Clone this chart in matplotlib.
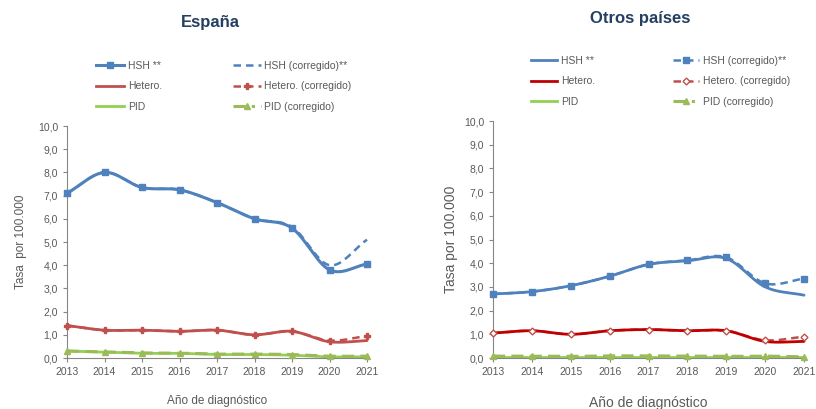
import numpy as np
import matplotlib.pyplot as plt
from matplotlib.lines import Line2D
from matplotlib.ticker import FuncFormatter

plt.rcParams['font.family'] = ['Liberation Sans', 'DejaVu Sans']

years = [2013, 2014, 2015, 2016, 2017, 2018, 2019, 2020, 2021]

# España
es_hsh = [7.1, 8.0, 7.35, 7.25, 6.7, 6.0, 5.6, 3.8, 4.05]
es_hsh_corr = [7.1, 8.0, 7.35, 7.25, 6.7, 6.0, 5.65, 4.0, 5.1]
es_het = [1.4, 1.2, 1.2, 1.15, 1.2, 1.0, 1.15, 0.7, 0.75]
es_het_corr = [1.4, 1.2, 1.2, 1.15, 1.2, 1.0, 1.15, 0.75, 0.95]
es_pid = [0.3, 0.25, 0.2, 0.2, 0.15, 0.15, 0.12, 0.05, 0.05]
es_pid_corr = [0.3, 0.26, 0.22, 0.21, 0.17, 0.17, 0.15, 0.08, 0.08]

# Otros países
ot_hsh = [2.7, 2.8, 3.05, 3.45, 3.95, 4.1, 4.2, 3.0, 2.65]
ot_hsh_corr = [2.7, 2.8, 3.05, 3.45, 3.95, 4.12, 4.25, 3.15, 3.35]
ot_het = [1.05, 1.15, 1.0, 1.15, 1.2, 1.15, 1.15, 0.7, 0.7]
ot_het_corr = [1.05, 1.15, 1.0, 1.15, 1.2, 1.15, 1.15, 0.75, 0.9]
ot_pid = [0.05, 0.05, 0.05, 0.05, 0.05, 0.05, 0.05, 0.05, 0.05]
ot_pid_corr = [0.08, 0.08, 0.07, 0.09, 0.09, 0.08, 0.07, 0.08, 0.05]

labels = ['HSH **', 'Hetero.', 'PID', 'HSH (corregido)**', 'Hetero. (corregido)', 'PID (corregido)']

BLUE = '#4F81BD'
GREY = '#595959'
TITLE = '#243F60'


def smooth(x, y, n=24):
    # Catmull-Rom curve through the points, like Excel's smoothed lines
    x = np.asarray(x, float)
    y = np.asarray(y, float)
    px = np.concatenate([[2 * x[0] - x[1]], x, [2 * x[-1] - x[-2]]])
    py = np.concatenate([[2 * y[0] - y[1]], y, [2 * y[-1] - y[-2]]])
    xs, ys = [], []
    t = np.linspace(0, 1, n)
    for i in range(1, len(px) - 2):
        for p, out in ((px, xs), (py, ys)):
            p0, p1, p2, p3 = p[i - 1], p[i], p[i + 1], p[i + 2]
            out.extend(0.5 * (2 * p1 + (-p0 + p2) * t + (2 * p0 - 5 * p1 + 4 * p2 - p3) * t ** 2
                              + (-p0 + 3 * p1 - 3 * p2 + p3) * t ** 3))
    return xs, ys


def draw(ax, y, color, ls, lw, marker=None, ms=4, mfc=None):
    sx, sy = smooth(years, y)
    ax.plot(sx, sy, color=color, ls=ls, lw=lw, clip_on=False, solid_capstyle='round')
    if marker:
        ax.plot(years, y, ls='none', marker=marker, ms=ms, color=color,
                mfc=mfc or color, mec=color, clip_on=False, zorder=5)


def style(ax):
    ax.set_xlim(2013, 2021)
    ax.set_ylim(0, 10)
    ax.set_xticks(years)
    ax.set_yticks(np.arange(0, 11, 1))
    ax.yaxis.set_major_formatter(FuncFormatter(lambda v, p: f'{v:.1f}'.replace('.', ',')))
    for s in ['top', 'right']:
        ax.spines[s].set_visible(False)
    for s in ['left', 'bottom']:
        ax.spines[s].set_color('#868686')
        ax.spines[s].set_linewidth(0.8)
    ax.tick_params(colors='#868686', labelcolor=GREY, labelsize=7.5, length=3, width=0.8)


fig = plt.figure(figsize=(8.16, 4.09), dpi=100)

# España
ax1 = fig.add_axes([67 / 816, 51 / 409, 300 / 816, 232 / 409])
style(ax1)
draw(ax1, es_pid, '#92D050', '-', 2.0)
draw(ax1, es_pid_corr, '#9BBB59', (0, (4, 2)), 2.2, marker='^', ms=4)
draw(ax1, es_het_corr, '#C0504D', (0, (3, 2)), 1.8, marker='P', ms=4)
draw(ax1, es_het, '#C0504D', '-', 2.0)
draw(ax1, es_hsh_corr, BLUE, (0, (3, 2)), 1.8)
draw(ax1, es_hsh, BLUE, '-', 2.2, marker='s', ms=5)
ax1.set_ylabel('Tasa  por 100.000', color=GREY, fontsize=8.5, labelpad=8)
ax1.set_xlabel('Año de diagnóstico', color=GREY, fontsize=8.5, labelpad=13)
fig.text(210 / 816, 1 - 22 / 409, 'España', ha='center', va='center',
         fontsize=12, fontweight='bold', color=TITLE)

h1 = [Line2D([], [], color=BLUE, lw=2.2, marker='s', ms=5),
      Line2D([], [], color='#C0504D', lw=2.0),
      Line2D([], [], color='#92D050', lw=2.0),
      Line2D([], [], color=BLUE, lw=1.8, ls=(0, (3, 2))),
      Line2D([], [], color='#C0504D', lw=1.8, ls=(0, (3, 2)), marker='P', ms=4),
      Line2D([], [], color='#9BBB59', lw=2.2, ls=(0, (4, 2, 1, 2)), marker='^', ms=4)]
fig.legend(h1, labels, ncol=2, frameon=False, loc='upper left', numpoints=1,
           bbox_to_anchor=(96 / 816, 1 - 61 / 409), borderpad=0, borderaxespad=0,
           fontsize=7.5, handlelength=2.7, handletextpad=0.35, columnspacing=6.8,
           labelspacing=1.0, labelcolor=GREY)

# Otros países
ax2 = fig.add_axes([493 / 816, 51 / 409, 311 / 816, 237 / 409])
style(ax2)
draw(ax2, ot_pid, '#92D050', '-', 2.0)
draw(ax2, ot_pid_corr, '#9BBB59', (0, (4, 2)), 2.2, marker='^', ms=4)
draw(ax2, ot_het_corr, '#C0504D', (0, (3, 2)), 1.8, marker='D', ms=3.5, mfc='white')
draw(ax2, ot_het, '#C00000', '-', 2.0)
draw(ax2, ot_hsh, BLUE, '-', 2.0)
draw(ax2, ot_hsh_corr, BLUE, (0, (3, 2)), 1.8, marker='s', ms=5)
ax2.set_ylabel('Tasa por 100.000', color=GREY, fontsize=10, labelpad=4)
ax2.set_xlabel('Año de diagnóstico', color=GREY, fontsize=10, labelpad=14)
fig.text(640 / 816, 1 - 18 / 409, 'Otros países', ha='center', va='center',
         fontsize=12, fontweight='bold', color=TITLE)

h2 = [Line2D([], [], color=BLUE, lw=2.0),
      Line2D([], [], color='#C00000', lw=2.0),
      Line2D([], [], color='#92D050', lw=2.0),
      Line2D([], [], color=BLUE, lw=1.8, ls=(0, (3, 2)), marker='s', ms=5),
      Line2D([], [], color='#C0504D', lw=1.8, ls=(0, (3, 2)), marker='D', ms=3.5, mfc='white'),
      Line2D([], [], color='#9BBB59', lw=2.2, ls=(0, (4, 2, 1, 2)), marker='^', ms=4)]
fig.legend(h2, labels, ncol=2, frameon=False, loc='upper left', numpoints=1,
           bbox_to_anchor=(531 / 816, 1 - 56 / 409), borderpad=0, borderaxespad=0,
           fontsize=7.5, handlelength=2.5, handletextpad=0.35, columnspacing=7.5,
           labelspacing=1.0, labelcolor=GREY)

fig.savefig('out.png', dpi=100)
